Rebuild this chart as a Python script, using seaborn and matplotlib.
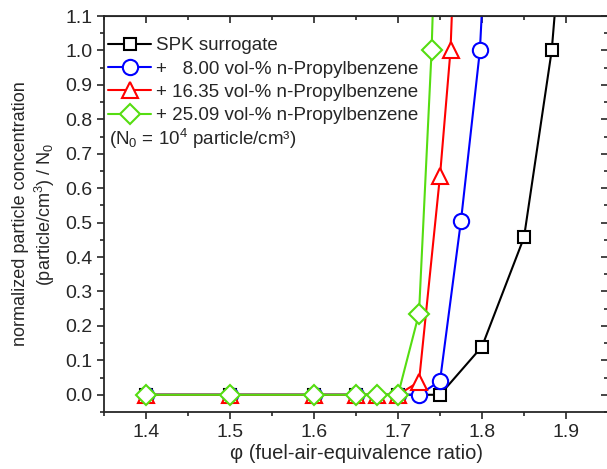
import matplotlib
matplotlib.use("Agg")
import matplotlib.pyplot as plt
import seaborn as sns
import pandas as pd
from matplotlib.ticker import MultipleLocator

# phi values and normalized particle concentration for each fuel
spk_phi = [1.4, 1.5, 1.6, 1.65, 1.7, 1.75, 1.8, 1.85, 1.883, 1.9]
spk_val = [0.0, 0.0, 0.0, 0.0, 0.0, 0.0, 0.14, 0.457, 1.0, 1.5]

p08_phi = [1.4, 1.5, 1.6, 1.65, 1.7, 1.725, 1.75, 1.775, 1.7975, 1.81]
p08_val = [0.0, 0.0, 0.0, 0.0, 0.0, 0.0, 0.04, 0.506, 1.0, 1.6]

p16_phi = [1.4, 1.5, 1.6, 1.65, 1.675, 1.7, 1.725, 1.75, 1.7625, 1.775]
p16_val = [0.0, 0.0, 0.0, 0.0, 0.0, 0.0, 0.038, 0.636, 1.0, 1.8]

p25_phi = [1.4, 1.5, 1.6, 1.65, 1.675, 1.7, 1.725, 1.74, 1.75]
p25_val = [0.0, 0.0, 0.0, 0.0, 0.0, 0.0, 0.236, 1.0, 1.8]

labels = ["SPK surrogate",
          "+   8.00 vol-% n-Propylbenzene",
          "+ 16.35 vol-% n-Propylbenzene",
          "+ 25.09 vol-% n-Propylbenzene"]
colors = ["black", "#0000ff", "#ff0000", "#55dd11"]
markers = ["s", "o", "^", "D"]
msizes = [9, 11, 12, 10]

series = [(spk_phi, spk_val), (p08_phi, p08_val), (p16_phi, p16_val), (p25_phi, p25_val)]

sns.set_style("ticks")
plt.rcParams['font.family'] = ['Liberation Sans', 'DejaVu Sans']
plt.rcParams['mathtext.fontset'] = 'custom'
plt.rcParams['mathtext.rm'] = 'Liberation Sans'
plt.rcParams['mathtext.it'] = 'Liberation Sans'

fig = plt.figure(figsize=(6.07, 4.69), dpi=100)
ax = fig.add_axes([104 / 607, 57 / 469, 504 / 607, 396 / 469])

for (phi, val), lab, c, m, ms in zip(series, labels, colors, markers, msizes):
    df = pd.DataFrame({"phi": phi, "val": val})
    sns.lineplot(data=df, x="phi", y="val", ax=ax, color=c, marker=m,
                 markersize=ms, markerfacecolor="white", markeredgecolor=c,
                 markeredgewidth=1.5, linewidth=1.5, label=lab)

ax.set_xlim(1.35, 1.95)
ax.set_ylim(-0.05, 1.1)
ax.xaxis.set_minor_locator(MultipleLocator(0.05))
ax.yaxis.set_minor_locator(MultipleLocator(0.05))
ax.set_xticks([1.4, 1.5, 1.6, 1.7, 1.8, 1.9])
ax.set_xticklabels(["1.4", "1.5", "1.6", "1.7", "1.8", "1.9"])
ax.set_yticks([i / 10 for i in range(12)])
ax.set_yticklabels([f"{i / 10:.1f}" for i in range(12)])

ax.tick_params(which="both", direction="out", top=False, right=False, labelsize=14, width=1.2)
ax.tick_params(which="major", length=5)
ax.tick_params(which="minor", length=3)
for side in ["left", "bottom", "top", "right"]:
    ax.spines[side].set_linewidth(1.3)
    ax.spines[side].set_visible(True)

# inward ticks on top and right
sec_x = ax.secondary_xaxis("top")
sec_x.set_xticks([1.4, 1.5, 1.6, 1.7, 1.8, 1.9])
sec_x.xaxis.set_minor_locator(MultipleLocator(0.05))
sec_x.tick_params(which="both", direction="in", labeltop=False, width=1.2)
sec_x.tick_params(which="major", length=5)
sec_x.tick_params(which="minor", length=3)
sec_y = ax.secondary_yaxis("right")
sec_y.set_yticks([i / 10 for i in range(12)])
sec_y.yaxis.set_minor_locator(MultipleLocator(0.05))
sec_y.tick_params(which="both", direction="in", labelright=False, width=1.2)
sec_y.tick_params(which="major", length=5)
sec_y.tick_params(which="minor", length=3)

ax.set_xlabel("φ (fuel-air-equivalence ratio)", fontsize=14.5, labelpad=2)
ax.set_ylabel("normalized particle concentration\n(particle/cm$^3$) / N$_0$", fontsize=13, labelpad=6)

leg = ax.legend(loc="upper left", bbox_to_anchor=(-0.014, 0.975), frameon=False,
                fontsize=13.5, handlelength=2.3, handletextpad=0.25, labelspacing=0.33,
                borderaxespad=0.2)
ax.text(0.01, 0.69, "(N$_0$ = 10$^4$ particle/cm³)", transform=ax.transAxes,
        fontsize=13.5, ha="left", va="center")

fig.savefig("out.png", dpi=100)
